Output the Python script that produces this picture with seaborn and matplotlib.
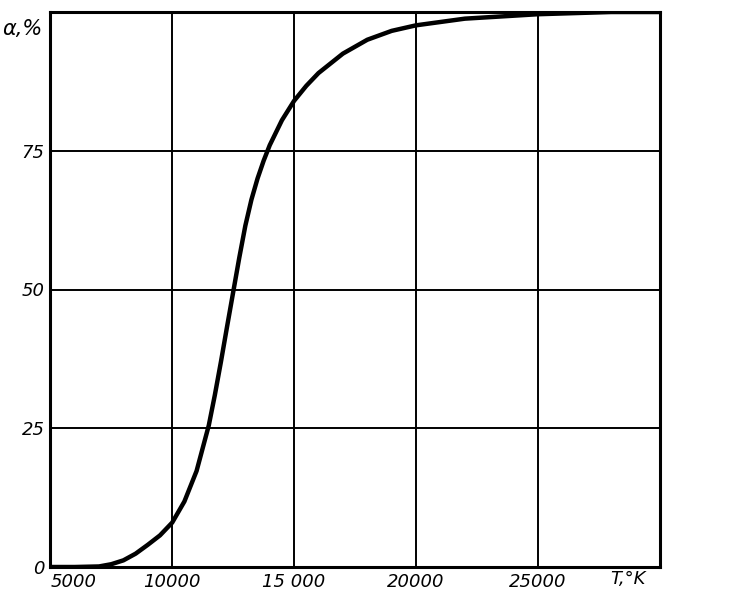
import numpy as np
import pandas as pd
import matplotlib
matplotlib.use('Agg')
import matplotlib.pyplot as plt
import seaborn as sns

# degree of ionization vs temperature
temperature = [5000, 6000, 7000, 7500, 8000, 8500, 9000, 9500, 10000, 10500, 11000,
               11500, 11750, 12000, 12250, 12500, 12750, 13000, 13250, 13500, 13750,
               14000, 14500, 15000, 15500, 16000, 17000, 18000, 19000, 20000, 22000,
               25000, 28000, 30000]
alpha = [0, 0, 0.1, 0.5, 1.2, 2.4, 4.0, 5.7, 8.0, 11.8, 17.3,
         25.5, 31, 37, 43.3, 49.5, 55.7, 61.5, 66.2, 70, 73.2,
         76, 80.5, 84, 86.7, 89, 92.5, 95, 96.6, 97.6, 98.8,
         99.6, 100, 100]

x_ticks = [5000, 10000, 15000, 20000, 25000, 30000]
x_labels = ['5000', '10000', '15 000', '20000', '25000', '']
y_ticks = [0, 25, 50, 75, 100]
y_labels = ['0', '25', '50', '75', '']

df = pd.DataFrame({'T': temperature, 'alpha': alpha})

sns.set_style('white')
plt.rcParams['font.family'] = ['DejaVu Sans']

fig = plt.figure(figsize=(7.39, 6), dpi=100)
ax = fig.add_axes([0.068, 0.055, 0.825, 0.925])

sns.lineplot(data=df, x='T', y='alpha', color='black', linewidth=3.2, ax=ax)

ax.set_xlim(5000, 30000)
ax.set_ylim(0, 100)
ax.set_xticks(x_ticks)
ax.set_yticks(y_ticks)
ax.set_xticklabels(x_labels, fontsize=13, fontstyle='italic', color='black')
ax.set_yticklabels(y_labels, fontsize=13, fontstyle='italic', color='black')
ax.get_xticklabels()[0].set_horizontalalignment('left')
ax.tick_params(length=0, pad=4)
ax.grid(True, color='black', linewidth=1.4)
for s in ax.spines.values():
    s.set_color('black')
    s.set_linewidth(2.2)
ax.set_xlabel('')
ax.set_ylabel('')

fig.text(0.003, 0.952, 'α,%', fontsize=15, fontstyle='italic', ha='left', va='center', color='black')
fig.text(0.826, 0.035, 'T,°K', fontsize=13, fontstyle='italic', ha='left', va='center', color='black')

fig.savefig('out.png', dpi=100, facecolor='white')
